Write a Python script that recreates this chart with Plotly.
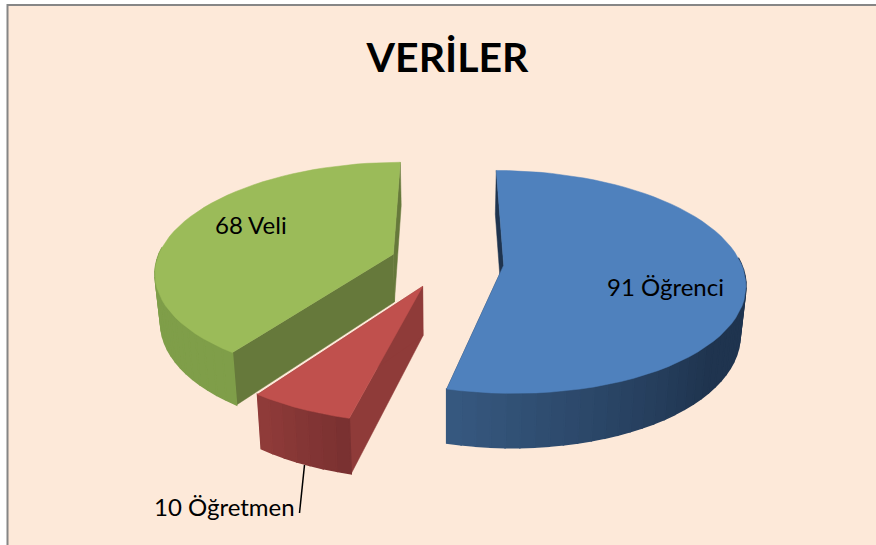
import numpy as np
import plotly.graph_objects as go

# Data
categories = ["Öğrenci", "Öğretmen", "Veli"]
values = [91, 10, 68]
title_text = "VERİLER"

# Style per slice
top_colors = ["#4f81bd", "#c0504d", "#9bbb59"]
wall_colors = ["#1f344f", "#8f3b39", "#66793b"]
rim_near_start = ["#1f344f", "#7a3131", "#7f9e49"]   # rim colour at slice's start angle
rim_near_end = ["#36587f", "#8f3b39", "#7f9e49"]     # rim colour at slice's end angle
shade_from = [0.68, 0.0, 0.0]                        # fraction of the arc before shading begins
label_pos = [(665, 286), (224, 506), (251, 224)]
draw_order = [2, 0, 1]

# Exploded 3-D projection
CX, CY, A, B, K, D, ZS = 447, 262, 237, 108, 0.15, 49, 1.02
PULL = 0.24


def project(X, Y, bottom=False):
    w = 1 - K * np.asarray(Y, dtype=float)
    if bottom:
        return CX + A * np.asarray(X) / (w * ZS), CY + (B * np.asarray(Y) + D) / (w * ZS)
    return CX + A * np.asarray(X) / w, CY + B * np.asarray(Y) / w


def mix(c1, c2, t):
    a = [int(c1[i:i + 2], 16) for i in (1, 3, 5)]
    b = [int(c2[i:i + 2], 16) for i in (1, 3, 5)]
    return "#%02x%02x%02x" % tuple(round(p + (q - p) * t) for p, q in zip(a, b))


fig = go.Figure()


def poly(x, y, color, name, width=0.5):
    fig.add_trace(go.Scatter(
        x=np.append(x, x[0]), y=np.append(y, y[0]), mode="lines", fill="toself",
        fillcolor=color, line=dict(color=color, width=width), name=name, hoverinfo="name",
        showlegend=False))


total = sum(values)
edges = np.cumsum([0] + values) / total * 2 * np.pi

for i in draw_order:
    a0, a1 = edges[i], edges[i + 1]
    mid = (a0 + a1) / 2
    ox, oy = PULL * np.sin(mid), -PULL * np.cos(mid)
    th = np.linspace(a0, a1, max(8, int(np.degrees(a1 - a0) / 3)))
    rx, ry = ox + np.sin(th), oy - np.cos(th)

    # radial walls
    for t in (a0, a1):
        ex, ey = ox + np.sin(t), oy - np.cos(t)
        tx, ty = project(np.array([ox, ex]), np.array([oy, ey]))
        bx, by = project(np.array([ox, ex]), np.array([oy, ey]), bottom=True)
        poly(np.array([tx[0], tx[1], bx[1], bx[0]]), np.array([ty[0], ty[1], by[1], by[0]]),
             wall_colors[i], categories[i])

    # outer rim, front-facing part only, in shaded segments overlapped so no seams show
    tx, ty = project(rx, ry)
    bx, by = project(rx, ry, bottom=True)
    for j in range(len(th) - 1):
        if np.cos(th[j]) > 0.02 and np.cos(th[j + 1]) > 0.02:
            continue
        frac = j / (len(th) - 2)
        s = max(0.0, (frac - shade_from[i]) / (1 - shade_from[i]))
        color = mix(rim_near_start[i], rim_near_end[i], s)
        poly(np.array([tx[j], tx[j + 1], bx[j + 1], bx[j]]),
             np.array([ty[j], ty[j + 1], by[j + 1], by[j]]), color, categories[i], width=1.6)

    # top face
    px, py = project(np.r_[ox, rx], np.r_[oy, ry])
    poly(px, py, top_colors[i], categories[i])

# Leader line for the small slice
fig.add_shape(type="line", x0=304.5, y0=465, x1=299.5, y1=513,
              line=dict(color="#000000", width=1.5), layer="above")

for cat, val, (lx, ly) in zip(categories, values, label_pos):
    fig.add_annotation(x=lx, y=ly, text=f"{val} {cat}", showarrow=False,
                       font=dict(family="Lato, Carlito, sans-serif", size=24, color="#000000"),
                       xanchor="center", yanchor="middle")

# Chart area
fig.add_shape(type="rect", x0=7.5, y0=5, x1=900, y1=600, layer="below",
              fillcolor="#fde9d9", line=dict(color="#868686", width=2))

fig.update_layout(
    width=876, height=545, margin=dict(l=0, r=0, t=0, b=0),
    paper_bgcolor="#ffffff", plot_bgcolor="#ffffff", showlegend=False,
    title=dict(text=f"<b>{title_text}</b>", x=447.5 / 876, y=1 - 58 / 545,
               xanchor="center", yanchor="middle",
               font=dict(family="Lato, Carlito, sans-serif", size=41, color="#000000")),
    xaxis=dict(range=[0, 876], visible=False, fixedrange=True),
    yaxis=dict(range=[545, 0], visible=False, fixedrange=True),
)

fig.write_html("out.html", config={"displayModeBar": False},
               post_script="document.body.style.margin='0';document.body.style.overflow='hidden';")
